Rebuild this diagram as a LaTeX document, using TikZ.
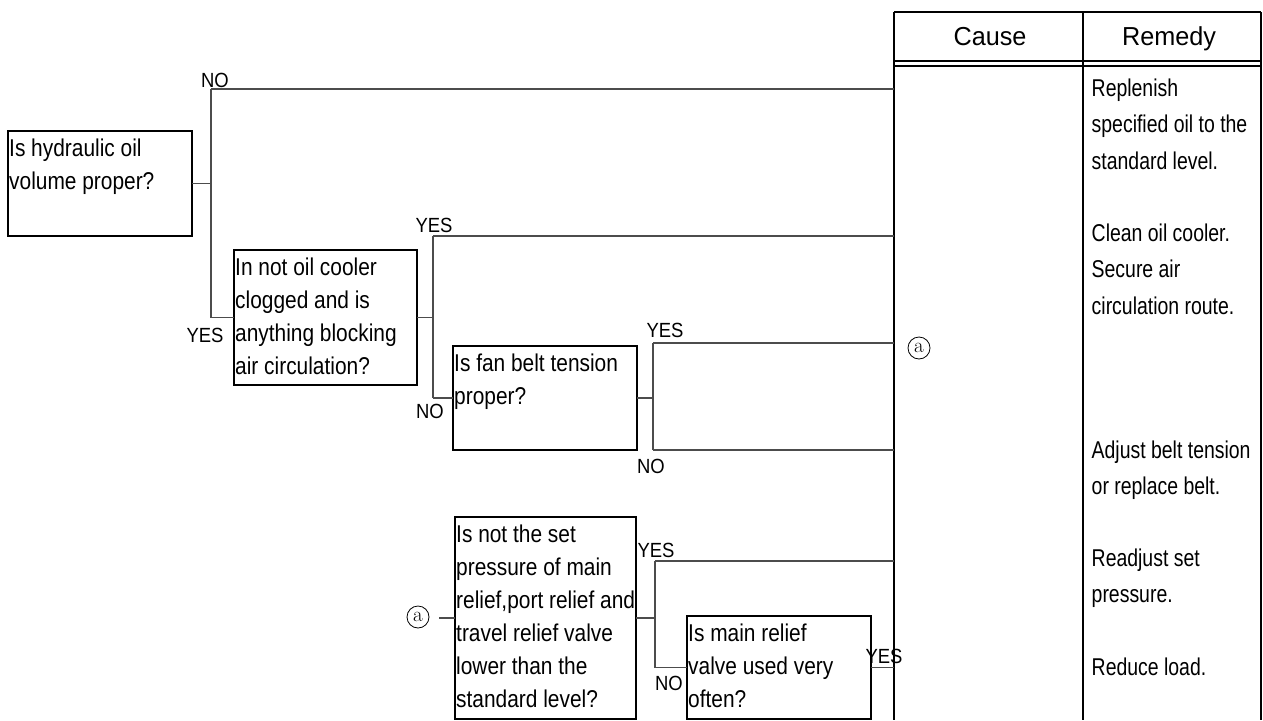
\documentclass[tikz,border=0pt]{standalone}
\usepackage{fontspec}
\newfontfamily\boxf{Liberation Sans}[FakeStretch=0.86]
\newfontfamily\remf{Liberation Sans}[FakeStretch=0.8]
\newfontfamily\labf{Liberation Sans}[FakeStretch=0.9]
\newfontfamily\headf{Liberation Sans}[FakeStretch=0.97]
\newcommand\mylines[1]{\begin{tabular}[t]{@{}l@{}}#1\end{tabular}}
\begin{document}
\begin{tikzpicture}[x=1pt,y=-1pt,
  qbox/.style={draw=black,line width=1.4pt,inner sep=0pt,outer sep=0pt,anchor=north west},
  qtxt/.style={inner sep=0pt,anchor=base west,font=\boxf\fontsize{24.3}{33}\selectfont},
  rtxt/.style={inner sep=0pt,anchor=base west,font=\remf\fontsize{24.3}{36.5}\selectfont},
  lab/.style={inner sep=0pt,anchor=base,font=\labf\fontsize{20.5}{24}\selectfont},
  hdr/.style={inner sep=0pt,anchor=base,font=\headf\fontsize{26}{30}\selectfont},
  conn/.style={draw=black!70,line width=1.3pt},
  tline/.style={draw=black,line width=1.8pt},
  circa/.style={draw=black,circle,line width=0.8pt,minimum size=22pt,inner sep=0pt,font=\fontsize{21}{24}\selectfont}]
\useasboundingbox (0,0) rectangle (1263,720);
% table
\draw[tline] (894,12) -- (1261,12);
\draw[tline] (894,12) -- (894,720);
\draw[tline] (1083,12) -- (1083,720);
\draw[tline] (1261,12) -- (1261,720);
\draw[draw=black,line width=1.4pt] (894,61) -- (1261,61);
\draw[draw=black,line width=1.4pt] (894,66) -- (1261,66);
\node[hdr] (hc) at (990,45) {Cause};
\node[hdr] (hr) at (1169,45) {Remedy};
% boxes
\node[qbox,minimum width=184pt,minimum height=105pt] (b1) at (8,131) {};
\node[qbox,minimum width=183pt,minimum height=135pt] (b2) at (234,250) {};
\node[qbox,minimum width=184pt,minimum height=104pt] (b3) at (453,346) {};
\node[qbox,minimum width=181pt,minimum height=202pt] (b4) at (455,517) {};
\node[qbox,minimum width=184pt,minimum height=103pt] (b5) at (687,616) {};
\node[qtxt] (t1) at (9,156.5) {\mylines{Is hydraulic oil\\volume proper?}};
\node[qtxt] (t2) at (235,275.5) {\mylines{In not oil cooler\\clogged and is\\anything blocking\\air circulation?}};
\node[qtxt] (t3) at (454,371.5) {\mylines{Is fan belt tension\\proper?}};
\node[qtxt] (t4) at (456,542.5) {\mylines{Is not the set\\pressure of main\\relief,port relief and\\travel relief valve\\lower than the\\standard level?}};
\node[qtxt] (t5) at (688,641.5) {\mylines{Is main relief\\valve used very\\often?}};
% remedies
\node[rtxt] (r1) at (1091.5,96) {\mylines{Replenish\\specified oil to the\\standard level.}};
\node[rtxt] (r2) at (1091.5,241) {\mylines{Clean oil cooler.\\Secure air\\circulation route.}};
\node[rtxt] (r3) at (1091.5,458) {\mylines{Adjust belt tension\\or replace belt.}};
\node[rtxt] (r4) at (1091.5,566) {\mylines{Readjust set\\pressure.}};
\node[rtxt] (r5) at (1091.5,675) {\mylines{Reduce load.}};
% circled a
\node[circa] (a1) at (418,617) {a};
\node[circa] (a2) at (919,348) {a};
% branch 1
\coordinate (j1) at (211,183.5);
\coordinate (j1t) at (211,89);
\coordinate (j1b) at (211,317.5);
\coordinate (e1) at (894,89);
\draw[conn] (b1.east) -- (j1);
\draw[conn] (j1t) -- (j1b);
\draw[conn] (j1t) -- (e1);
\draw[conn] (j1b) -- (b2.west);
\node[lab] (l1n) at (215,87) {NO};
\node[lab] (l1y) at (205,342) {YES};
% branch 2
\coordinate (j2) at (433,317.5);
\coordinate (j2t) at (433,236);
\coordinate (j2b) at (433,398);
\coordinate (e2) at (894,236);
\draw[conn] (b2.east) -- (j2);
\draw[conn] (j2t) -- (j2b);
\draw[conn] (j2t) -- (e2);
\draw[conn] (j2b) -- (b3.west);
\node[lab] (l2y) at (434,232) {YES};
\node[lab] (l2n) at (430,418) {NO};
% branch 3
\coordinate (j3) at (653,398);
\coordinate (j3t) at (653,343);
\coordinate (j3b) at (653,450);
\coordinate (e3) at (894,343);
\coordinate (e4) at (894,450);
\draw[conn] (b3.east) -- (j3);
\draw[conn] (j3t) -- (j3b);
\draw[conn] (j3t) -- (e3);
\draw[conn] (j3b) -- (e4);
\node[lab] (l3y) at (665,337) {YES};
\node[lab] (l3n) at (651,473) {NO};
% branch 4
\coordinate (a1s) at (439,618);
\draw[conn] (a1s) -- (b4.west);
\coordinate (j4) at (655,618);
\coordinate (j4t) at (655,561);
\coordinate (j4b) at (655,667.5);
\coordinate (e5) at (894,561);
\draw[conn] (b4.east) -- (j4);
\draw[conn] (j4t) -- (j4b);
\draw[conn] (j4t) -- (e5);
\draw[conn] (j4b) -- (b5.west);
\node[lab] (l4y) at (656,557) {YES};
\node[lab] (l4n) at (669,690) {NO};
% branch 5
\coordinate (e6) at (894,667.5);
\draw[conn] (b5.east) -- (e6);
\node[lab] (l5y) at (884,663) {YES};
\end{tikzpicture}
\end{document}
